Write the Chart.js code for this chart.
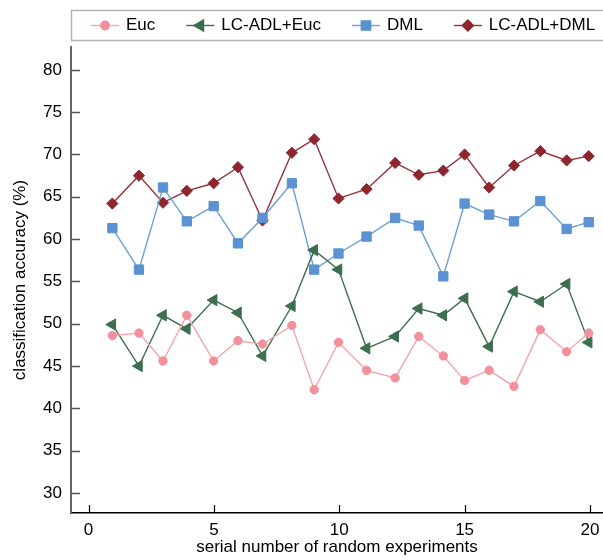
<!DOCTYPE html>
<html>
<head>
<meta charset="utf-8">
<script src="https://cdn.jsdelivr.net/npm/chart.js@4/dist/chart.umd.min.js"></script>
<style>
  html, body { margin: 0; padding: 0; background: #fff; }
  #wrap { width: 603px; height: 559px; }
</style>
</head>
<body>
<div id="wrap"><canvas id="accChart"></canvas></div>
<script>
// serial numbers as placed on the x axis
const serial = [0.95, 2.01, 2.97, 3.92, 4.99, 5.96, 6.94, 8.11, 9.0, 9.97,
                11.09, 12.23, 13.17, 14.15, 15.0, 15.98, 16.97, 18.02, 19.07, 19.95];

// classification accuracy (%) per method
const euc   = [48.6, 48.9, 45.6, 51.0, 45.6, 48.0, 47.6, 49.8, 42.2, 47.8,
               44.5, 43.6, 48.5, 46.2, 43.3, 44.5, 42.6, 49.3, 46.7, 48.9];
const lcEuc = [49.9, 45.0, 51.0, 49.4, 52.8, 51.3, 46.2, 52.1, 58.7, 56.4,
               47.1, 48.5, 51.8, 51.0, 53.0, 47.3, 53.8, 52.6, 54.7, 47.8];
const dml   = [61.3, 56.4, 66.1, 62.1, 63.9, 59.5, 62.5, 66.6, 56.4, 58.3,
               60.3, 62.5, 61.6, 55.6, 64.2, 62.9, 62.1, 64.5, 61.2, 62.0];
const lcDml = [64.2, 67.5, 64.3, 65.7, 66.6, 68.5, 62.2, 70.2, 71.8, 64.8,
               65.9, 69.0, 67.6, 68.1, 70.0, 66.1, 68.7, 70.4, 69.3, 69.8];

const seriesNames = ['Euc', 'LC-ADL+Euc', 'DML', 'LC-ADL+DML'];
const xTicks = [0, 5, 10, 15, 20];
const yTicks = [30, 35, 40, 45, 50, 55, 60, 65, 70, 75, 80];

const FONT = '"Liberation Sans", Arial, Helvetica, sans-serif';

// gabungkan x dan y jadi titik
function toPoints(values) {
  return values.map((v, i) => ({ x: serial[i], y: v }));
}

// legend dengan garis + marker, dalam kotak abu-abu
const frameLegend = {
  id: 'frameLegend',
  afterDraw(chart) {
    const ctx = chart.ctx;
    const left = chart.chartArea.left;
    ctx.save();
    ctx.strokeStyle = '#b4b4b4';
    ctx.lineWidth = 1.5;
    ctx.strokeRect(left + 0.5, 10.5, chart.width + 20, 30);

    ctx.font = '17px ' + FONT;
    ctx.textBaseline = 'middle';
    ctx.fillStyle = '#000';
    const cy = 25.5;
    let x = 91;
    chart.data.datasets.forEach((ds) => {
      ctx.strokeStyle = ds.borderColor;
      ctx.lineWidth = 1.4;
      ctx.beginPath();
      ctx.moveTo(x, cy);
      ctx.lineTo(x + 28, cy);
      ctx.stroke();
      const opts = {
        pointStyle: ds.pointStyle,
        rotation: ds.pointRotation || 0,
        radius: ds.pointRadius,
        borderWidth: 1
      };
      ctx.fillStyle = ds.pointBackgroundColor;
      ctx.strokeStyle = ds.pointBorderColor;
      Chart.helpers.drawPoint(ctx, opts, x + 14, cy);
      ctx.fillStyle = '#000';
      ctx.fillText(ds.label, x + 35, cy);
      x = x + 35 + ctx.measureText(ds.label).width + 31;
    });
    ctx.restore();
  }
};

// tick kecil ke arah dalam plot
const innerTicks = {
  id: 'innerTicks',
  afterDraw(chart) {
    const ctx = chart.ctx;
    const xs = chart.scales.x;
    const ys = chart.scales.y;
    const area = chart.chartArea;
    ctx.save();
    ctx.strokeStyle = '#555';
    ctx.lineWidth = 1.5;
    yTicks.forEach((v) => {
      const py = Math.round(ys.getPixelForValue(v)) + 0.5;
      ctx.beginPath();
      ctx.moveTo(area.left, py);
      ctx.lineTo(area.left + 9, py);
      ctx.stroke();
    });
    ctx.strokeStyle = '#000';
    ctx.lineWidth = 1.2;
    xTicks.forEach((v) => {
      const px = Math.round(xs.getPixelForValue(v)) + 0.5;
      ctx.beginPath();
      ctx.moveTo(px, area.bottom);
      ctx.lineTo(px, area.bottom - 8);
      ctx.stroke();
    });
    ctx.restore();
  }
};

function makeSet(label, values, line, fill, style, radius, rotation) {
  return {
    label: label,
    data: toPoints(values),
    borderColor: line,
    borderWidth: 1.4,
    pointStyle: style,
    pointRadius: radius,
    pointHoverRadius: radius,
    pointRotation: rotation,
    pointBackgroundColor: fill,
    pointBorderColor: fill,
    pointBorderWidth: 1,
    tension: 0,
    fill: false
  };
}

const ctx = document.getElementById('accChart').getContext('2d');
new Chart(ctx, {
  type: 'line',
  data: {
    datasets: [
      makeSet(seriesNames[0], euc, '#f5a3ad', '#f2909c', 'circle', 4.2, 0),
      makeSet(seriesNames[1], lcEuc, '#3c6e4f', '#3c6e4f', 'triangle', 6.5, -90),
      makeSet(seriesNames[2], dml, '#6d9fd6', '#5b92d1', 'rect', 6.6, 0),
      makeSet(seriesNames[3], lcDml, '#94333c', '#8e2630', 'rectRot', 5.6, 0)
    ]
  },
  options: {
    responsive: true,
    maintainAspectRatio: false,
    animation: false,
    layout: { autoPadding: false, padding: { top: 47, right: 0, left: 0, bottom: 0 } },
    plugins: {
      legend: { display: false },
      tooltip: { enabled: false }
    },
    scales: {
      x: {
        type: 'linear',
        min: -0.7,
        max: 20.52,
        afterBuildTicks: (scale) => { scale.ticks = xTicks.map((v) => ({ value: v })); },
        afterFit: (scale) => {
          scale.height = 46;
          scale.paddingLeft = 0;
          scale.paddingRight = 0;
        },
        grid: { display: false, drawTicks: false },
        border: { display: true, color: '#000', width: 1.5 },
        ticks: {
          padding: 7,
          maxRotation: 0,
          color: '#000',
          font: { family: FONT, size: 17 }
        },
        title: {
          display: true,
          text: 'serial number of random experiments',
          color: '#000',
          padding: { top: 0, bottom: 1 },
          font: { family: FONT, size: 17 }
        }
      },
      y: {
        min: 27.64,
        max: 82.7,
        afterBuildTicks: (scale) => { scale.ticks = yTicks.map((v) => ({ value: v })); },
        afterFit: (scale) => {
          scale.width = 71;
          scale.paddingTop = 0;
          scale.paddingBottom = 0;
        },
        grid: { display: false, drawTicks: false },
        border: { display: true, color: '#666', width: 2 },
        ticks: {
          padding: 9,
          color: '#000',
          font: { family: FONT, size: 17 }
        },
        title: {
          display: true,
          text: 'classification accuracy (%)',
          color: '#000',
          padding: { top: 10, bottom: 0 },
          font: { family: FONT, size: 17 }
        }
      }
    }
  },
  plugins: [frameLegend, innerTicks]
});
</script>
</body>
</html>
